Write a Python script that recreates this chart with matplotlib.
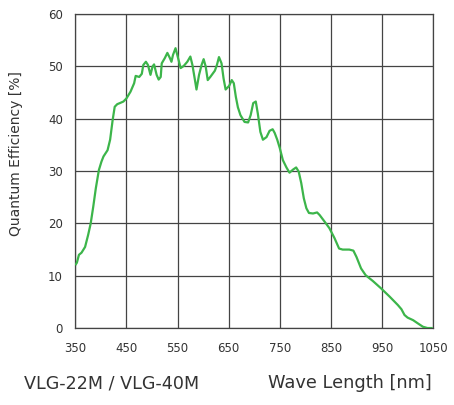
import matplotlib

matplotlib.use("Agg")
import matplotlib.pyplot as plt

INK = "#333333"
GRID = "#444444"
GREEN = "#3cb54a"

# quantum efficiency curve
WAVE = [351, 353, 357, 362, 369, 375, 380, 385, 390, 396, 401, 405, 413, 418,
        423, 427, 432, 437, 444, 450, 458, 465, 468, 475, 480, 483, 488, 492,
        497, 501, 504, 509, 513, 517, 519, 525, 530, 535, 538, 541, 546, 551,
        556, 562, 569, 575, 579, 584, 587, 592, 597, 601, 605, 609, 614, 623,
        627, 631, 636, 640, 644, 651, 656, 660, 664, 668, 673, 681, 688, 693,
        698, 703, 707, 712, 717, 724, 730, 736, 740, 745, 750, 756, 763, 769,
        776, 782, 787, 792, 797, 802, 807, 815, 823, 828, 838, 847, 857, 866,
        873, 886, 894, 900, 909, 918, 932, 948, 965, 981, 988, 994, 1000, 1011,
        1020, 1030, 1039, 1047]
QE = [12.2, 12.5, 14.0, 14.4, 15.5, 17.8, 20.0, 23.2, 26.7, 30.2, 31.8, 32.8,
      34.0, 36.0, 39.8, 42.3, 42.8, 43.0, 43.3, 43.9, 45.2, 46.8, 48.2, 48.0,
      48.6, 50.3, 50.9, 50.3, 48.4, 50.0, 50.4, 48.4, 47.5, 48.0, 50.6, 51.6,
      52.6, 51.6, 50.9, 52.2, 53.5, 51.6, 49.7, 50.1, 50.9, 51.9, 50.3, 47.4,
      45.6, 48.4, 50.3, 51.4, 50.0, 47.4, 48.0, 49.2, 50.3, 51.8, 50.6, 47.7,
      45.6, 46.3, 47.4, 46.8, 44.2, 42.2, 40.7, 39.4, 39.3, 40.7, 43.0, 43.3,
      41.0, 37.5, 36.0, 36.5, 37.7, 38.0, 37.3, 36.0, 34.4, 32.1, 30.7, 29.7,
      30.3, 30.7, 29.9, 27.7, 24.8, 22.9, 22.0, 21.9, 22.1, 21.6, 20.3, 19.1,
      17.2, 15.2, 15.0, 15.0, 14.8, 13.6, 11.4, 10.1, 9.0, 7.6, 6.0, 4.4, 3.6,
      2.5, 2.0, 1.5, 0.9, 0.25, 0.0, 0.0]

XTICKS = [350, 450, 550, 650, 750, 850, 950, 1050]
YTICKS = [0, 10, 20, 30, 40, 50, 60]

fig = plt.figure(figsize=(4.54, 4.05), dpi=100)
ax = fig.add_axes([0.166, 0.190, 0.788, 0.775])
ax.plot(WAVE, QE, color=GREEN, lw=1.6, zorder=3)

ax.set_xlim(350, 1050)
ax.set_ylim(0, 60)
ax.set_xticks(XTICKS)
ax.set_yticks(YTICKS)
ax.grid(True, color=GRID, lw=0.9)
ax.tick_params(length=0, labelsize=8.5, colors=INK)
ax.tick_params(axis="x", pad=10)
ax.tick_params(axis="y", pad=9)
for s in ax.spines.values():
    s.set_color(GRID)
    s.set_linewidth(0.9)

ax.set_ylabel("Quantum Efficiency [%]", fontsize=10, color=INK)
ax.yaxis.set_label_coords(-0.145, 0.555)
fig.text(0.053, 0.054, "VLG-22M / VLG-40M", fontsize=12.6, color=INK,
         ha="left", va="center")
fig.text(0.952, 0.054, "Wave Length [nm]", fontsize=12.8, color=INK,
         ha="right", va="center")

fig.savefig("out.png", dpi=100)
